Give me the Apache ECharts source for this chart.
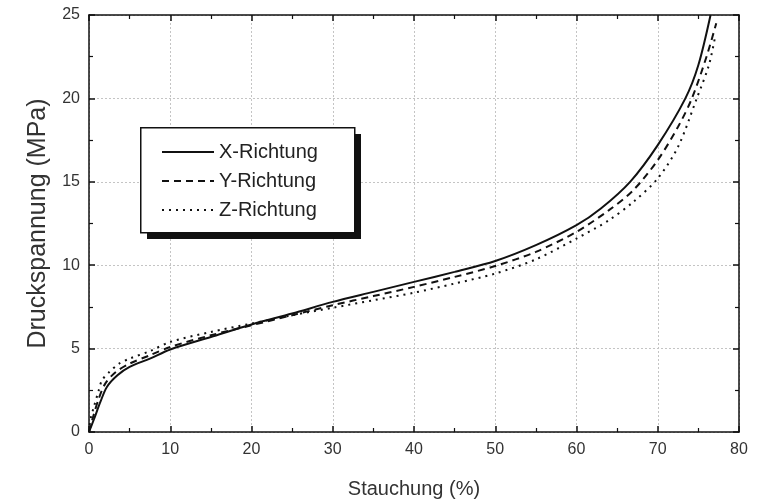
<!DOCTYPE html>
<html>
<head>
<meta charset="utf-8">
<script src="https://cdn.jsdelivr.net/npm/echarts@6/dist/echarts.min.js"></script>
<style>
  html, body { margin: 0; padding: 0; background: #fff; }
  #chart { width: 762px; height: 504px; }
</style>
</head>
<body>
<div id="chart"></div>
<script>
// Stauchung (%) / Druckspannung (MPa) readings for each direction
var xRichtungStrain = [0, 0.6, 1.4, 2.2, 3.5, 5, 7.5, 10, 15, 20, 25, 30, 35, 40, 45, 50, 55, 60, 63, 66.6, 70, 73.4, 75, 76.5];
var xRichtungStress = [0, 0.75, 1.8, 2.7, 3.4, 3.9, 4.4, 4.95, 5.7, 6.45, 7.1, 7.8, 8.4, 9.0, 9.6, 10.25, 11.2, 12.4, 13.4, 15, 17.2, 20, 22, 25];

var yRichtungStrain = [0, 0.5, 1.2, 2, 3.3, 5, 7.5, 10, 15, 20, 25, 30, 35, 40, 45, 50, 55, 60, 64, 67, 70, 72.5, 74.2, 76, 77.2];
var yRichtungStress = [0, 0.9, 2.0, 2.9, 3.6, 4.1, 4.6, 5.1, 5.8, 6.4, 7.0, 7.6, 8.15, 8.7, 9.3, 9.95, 10.8, 12.0, 13.3, 14.5, 16.3, 18.3, 20, 22.5, 24.5];

var zRichtungStrain = [0, 0.2, 0.6, 1.2, 1.6, 2.5, 3.7, 5, 7.5, 10, 15, 20, 25, 30, 35, 40, 45, 50, 55, 60, 64, 67, 70, 72.5, 74.8, 76.3, 77.1];
var zRichtungStress = [0, 0.8, 1.5, 2.5, 3.1, 3.6, 4.1, 4.4, 4.85, 5.4, 6.0, 6.5, 7.0, 7.45, 7.9, 8.35, 8.9, 9.5, 10.35, 11.6, 12.7, 13.8, 15.2, 17.1, 20, 22, 23.8];

var seriesNames = ['X-Richtung', 'Y-Richtung', 'Z-Richtung'];

function pairs(xs, ys) {
  return xs.map(function (x, i) { return [x, ys[i]]; });
}

var fontName = 'Liberation Sans';
var axisLineStyle = { color: '#111', width: 1.5 };

function makeX(pos, showLabels) {
  return {
    type: 'value', position: pos, min: 0, max: 80, interval: 10,
    name: showLabels ? 'Stauchung (%)' : '', nameLocation: 'middle', nameGap: 47,
    nameTextStyle: { fontFamily: fontName, fontSize: 20, color: '#333' },
    axisLine: { show: true, onZero: false, lineStyle: axisLineStyle },
    axisTick: { show: true, inside: true, length: 6, lineStyle: { color: '#111', width: 1.5 } },
    minorTick: { show: true, splitNumber: 2, length: 4, lineStyle: { color: '#111', width: 1.2 } },
    axisLabel: { show: showLabels, fontFamily: fontName, fontSize: 16, color: '#333', margin: 10 },
    splitLine: { show: showLabels, lineStyle: { color: '#c4c4c4', type: [2, 2], width: 1 } }
  };
}
function makeY(pos, showLabels) {
  return {
    type: 'value', position: pos, min: 0, max: 25, interval: 5,
    name: showLabels ? 'Druckspannung (MPa)' : '', nameLocation: 'middle', nameGap: 38,
    nameTextStyle: { fontFamily: fontName, fontSize: 25, color: '#333' },
    axisLine: { show: true, onZero: false, lineStyle: axisLineStyle },
    axisTick: { show: true, inside: true, length: 6, lineStyle: { color: '#111', width: 1.5 } },
    minorTick: { show: true, splitNumber: 2, length: 4, lineStyle: { color: '#111', width: 1.2 } },
    axisLabel: { show: showLabels, fontFamily: fontName, fontSize: 16, color: '#333', margin: 9 },
    splitLine: { show: showLabels, lineStyle: { color: '#c4c4c4', type: [2, 2], width: 1 } }
  };
}

function lineSeries(name, data, type) {
  return {
    name: name, type: 'line', xAxisIndex: 0, yAxisIndex: 0,
    data: data, showSymbol: false, symbol: 'none',
    smooth: 0.3,
    lineStyle: { color: '#111', width: 2, type: type },
    itemStyle: { color: '#111' }
  };
}

var myChart = echarts.init(document.getElementById('chart'), null, { renderer: 'canvas' });
myChart.setOption({
  animation: false,
  backgroundColor: '#fff',
  grid: { left: 89, right: 23, top: 15, bottom: 70, containLabel: false },
  xAxis: [makeX('bottom', true), makeX('top', false)],
  yAxis: [makeY('left', true), makeY('right', false)],
  // legend frame with its hard drop shadow
  graphic: [
    { type: 'rect', left: 147, top: 134, z: 90, shape: { width: 214, height: 105 }, style: { fill: '#111' } },
    { type: 'rect', left: 140, top: 127, z: 91, shape: { width: 214, height: 105 },
      style: { fill: '#fff', stroke: '#111', lineWidth: 1.5 } }
  ],
  legend: {
    data: seriesNames,
    orient: 'vertical',
    left: 161, top: 141, z: 100,
    padding: 0,
    itemWidth: 52, itemHeight: 14, itemGap: 7,
    itemStyle: { color: 'rgba(0,0,0,0)', borderColor: 'rgba(0,0,0,0)', borderWidth: 0 },
    textStyle: { fontFamily: fontName, fontSize: 20, color: '#222', lineHeight: 22 }
  },
  series: [
    lineSeries(seriesNames[0], pairs(xRichtungStrain, xRichtungStress), 'solid'),
    lineSeries(seriesNames[1], pairs(yRichtungStrain, yRichtungStress), [7, 5]),
    lineSeries(seriesNames[2], pairs(zRichtungStrain, zRichtungStress), [2, 5])
  ]
});
</script>
</body>
</html>
